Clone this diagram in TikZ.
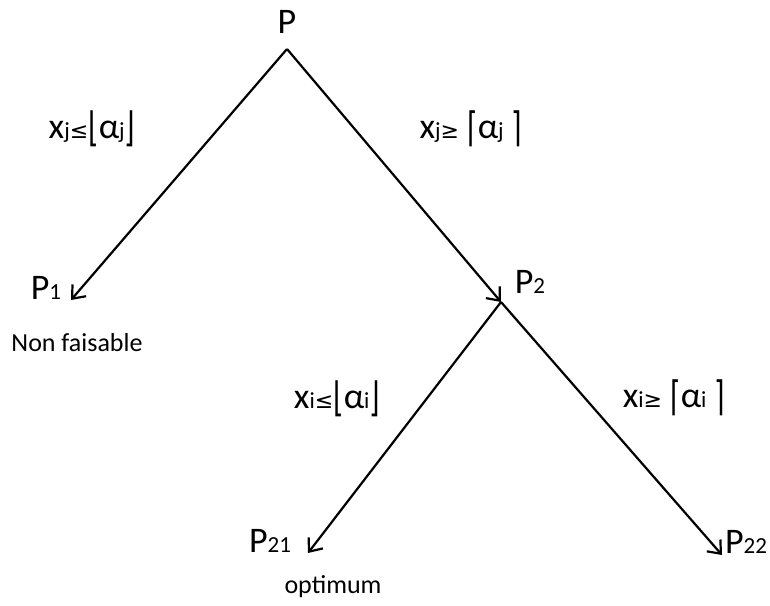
\documentclass[tikz,border=0pt]{standalone}
\usepackage{fontspec}
\setmainfont{Carlito}
\newfontfamily\symfont{DejaVu Sans}
\usetikzlibrary{arrows.meta}

% small subscript on the baseline, as in the figure
\newcommand{\sub}[1]{{\fontsize{23}{23}\selectfont #1}}
\newcommand{\rel}[1]{{\symfont\fontsize{22}{22}\selectfont #1}}
\newcommand{\brk}[1]{{\symfont\fontsize{30}{30}\selectfont\raisebox{-3pt}{\scalebox{0.9}[1.35]{#1}}}}

\begin{document}
\begin{tikzpicture}[x=1pt, y=-1pt,
    branch/.style={line width=2.2pt, -{Straight Barb[length=11pt, width=18pt, line width=2.2pt]}},
    tag/.style={anchor=base, inner sep=0pt, font=\fontsize{36}{40}\selectfont},
    cond/.style={anchor=base, inner sep=0pt, font=\fontsize{36}{40}\selectfont},
    note/.style={anchor=base, inner sep=0pt, font=\fontsize{26}{30}\selectfont}]

  \useasboundingbox (0,0) rectangle (770,605);

  % ---- branch points and arrow tips ----
  \coordinate (top)    at (287,49);
  \coordinate (p1tip)  at (71,300);
  \coordinate (p2)     at (501,302);
  \coordinate (p21tip) at (308,553);
  \coordinate (p22tip) at (722,555);

  % ---- problem labels ----
  \node[tag] (P)   at (287,33)  {P};
  \node[tag] (P1)  at (46,299)  {P\sub{1}};
  \node[tag] (P2)  at (530,293) {P\sub{2}};
  \node[tag] (P21) at (270,552) {P\sub{21}};
  \node[tag] (P22) at (746,553) {P\sub{22}};

  \node[note] (nf)  at (77,351)  {Non faisable};
  \node[note] (opt) at (333,593) {optimum};

  % ---- branching conditions ----
  \node[cond] (cj1) at (92,138)  {x\sub{j}\rel{≤}\brk{⌊}α\sub{j}\brk{⌋}};
  \node[cond] (cj2) at (471,138) {x\sub{j}\rel{≥}\ \brk{⌈}α\sub{j}\ \brk{⌉}};
  \node[cond] (ci1) at (337,408) {x\sub{i}\rel{≤}\brk{⌊}α\sub{i}\brk{⌋}};
  \node[cond] (ci2) at (674,407) {x\sub{i}\rel{≥}\ \brk{⌈}α\sub{i}\ \brk{⌉}};

  % ---- tree ----
  \draw[branch] (top) -- (p1tip);
  \draw[branch] (top) -- (p2);
  \draw[branch] (p2) -- (p21tip);
  \draw[branch] (p2) -- (p22tip);

\end{tikzpicture}
\end{document}
